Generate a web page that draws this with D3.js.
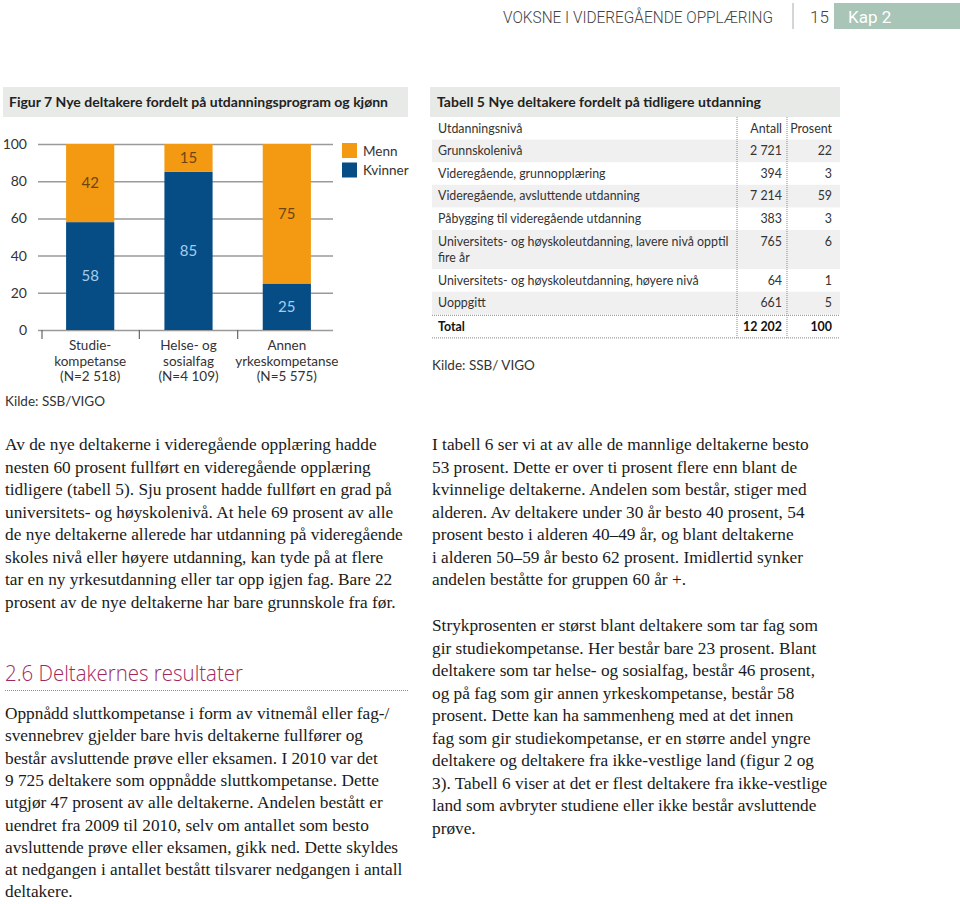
<!DOCTYPE html>
<html>
<head>
<meta charset="utf-8">
<script src="https://cdn.jsdelivr.net/npm/d3@7"></script>
<style>
html,body{margin:0;padding:0;background:#fff;}
svg{display:block;}
</style>
</head>
<body>
<svg id="page" width="960" height="904"></svg>
<script>
// ---------- DATA ----------
const categories = ["Studiekompetanse", "Helse- og sosialfag", "Annen yrkeskompetanse"];
const categoryLabels = [
  ["Studie-", "kompetanse", "(N=2 518)"],
  ["Helse- og", "sosialfag", "(N=4 109)"],
  ["Annen", "yrkeskompetanse", "(N=5 575)"]
];
const kvinner = [58, 85, 25];
const menn = [42, 15, 75];
const seriesNames = ["Kvinner", "Menn"];
const legendNames = ["Menn", "Kvinner"];
const yTicks = [0, 20, 40, 60, 80, 100];

const tableHeader = ["Utdanningsnivå", "Antall", "Prosent"];
const tableLevels = [
  ["Grunnskolenivå"],
  ["Videregående, grunnopplæring"],
  ["Videregående, avsluttende utdanning"],
  ["Påbygging til videregående utdanning"],
  ["Universitets- og høyskoleutdanning, lavere nivå opptil", "fire år"],
  ["Universitets- og høyskoleutdanning, høyere nivå"],
  ["Uoppgitt"]
];
const tableAntall = ["2 721", "394", "7 214", "383", "765", "64", "661"];
const tablePct = ["22", "3", "59", "3", "6", "1", "5"];
const tableTotal = ["Total", "12 202", "100"];

const para1 = [
  "Av de nye deltakerne i videregående opplæring hadde",
  "nesten 60 prosent fullført en videregående opplæring",
  "tidligere (tabell 5). Sju prosent hadde fullført en grad på",
  "universitets- og høyskolenivå. At hele 69 prosent av alle",
  "de nye deltakerne allerede har utdanning på videregående",
  "skoles nivå eller høyere utdanning, kan tyde på at flere",
  "tar en ny yrkesutdanning eller tar opp igjen fag. Bare 22",
  "prosent av de nye deltakerne har bare grunnskole fra før."
];
const para2 = [
  "Oppnådd sluttkompetanse i form av vitnemål eller fag-/",
  "svennebrev gjelder bare hvis deltakerne fullfører og",
  "består avsluttende prøve eller eksamen. I 2010 var det",
  "9 725 deltakere som oppnådde sluttkompetanse. Dette",
  "utgjør 47 prosent av alle deltakerne. Andelen bestått er",
  "uendret fra 2009 til 2010, selv om antallet som besto",
  "avsluttende prøve eller eksamen, gikk ned. Dette skyldes",
  "at nedgangen i antallet bestått tilsvarer nedgangen i antall",
  "deltakere."
];
const para3 = [
  "I tabell 6 ser vi at av alle de mannlige deltakerne besto",
  "53 prosent. Dette er over ti prosent flere enn blant de",
  "kvinnelige deltakerne. Andelen som består, stiger med",
  "alderen. Av deltakere under 30 år besto 40 prosent, 54",
  "prosent besto i alderen 40–49 år, og blant deltakerne",
  "i alderen 50–59 år besto 62 prosent. Imidlertid synker",
  "andelen beståtte for gruppen 60 år +."
];
const para4 = [
  "Strykprosenten er størst blant deltakere som tar fag som",
  "gir studiekompetanse. Her består bare 23 prosent. Blant",
  "deltakere som tar helse- og sosialfag, består 46 prosent,",
  "og på fag som gir annen yrkeskompetanse, består 58",
  "prosent. Dette kan ha sammenheng med at det innen",
  "fag som gir studiekompetanse, er en større andel yngre",
  "deltakere og deltakere fra ikke-vestlige land (figur 2 og",
  "3). Tabell 6 viser at det er flest deltakere fra ikke-vestlige",
  "land som avbryter studiene eller ikke består avsluttende",
  "prøve."
];

// ---------- STYLE ----------
const sans = "Lato, 'Open Sans', sans-serif";
const serif = "'Liberation Serif', 'DejaVu Serif', serif";
const orange = "#f39a12";
const blue = "#074d85";
const svg = d3.select("#page");

// ---------- HEADER ----------
svg.append("text").attr("x", 503).attr("y", 23)
  .attr("font-family", "Roboto, sans-serif").attr("font-weight", 300)
  .attr("font-size", 17).attr("fill", "#444")
  .attr("textLength", 270).attr("lengthAdjust", "spacingAndGlyphs")
  .text("VOKSNE I VIDEREGÅENDE OPPLÆRING");
svg.append("line").attr("x1", 793).attr("x2", 793).attr("y1", 3).attr("y2", 29)
  .attr("stroke", "#aaa").attr("stroke-width", 1);
svg.append("text").attr("x", 810).attr("y", 23)
  .attr("font-family", "Roboto, sans-serif").attr("font-weight", 300)
  .attr("font-size", 17).attr("fill", "#444").text("15");
svg.append("rect").attr("x", 834).attr("y", 3).attr("width", 126).attr("height", 26)
  .attr("fill", "#a8c5b8");
svg.append("text").attr("x", 848).attr("y", 23)
  .attr("font-family", "Roboto, sans-serif").attr("font-weight", 400)
  .attr("font-size", 17).attr("fill", "#fff").text("Kap 2");

// ---------- FIGURE ----------
svg.append("rect").attr("x", 3).attr("y", 87).attr("width", 405).attr("height", 30).attr("fill", "#e7eae7");
svg.append("text").attr("x", 9).attr("y", 107)
  .attr("font-family", sans).attr("font-weight", 700).attr("font-size", 14).attr("fill", "#222")
  .attr("textLength", 379).attr("lengthAdjust", "spacing")
  .text("Figur 7 Nye deltakere fordelt på utdanningsprogram og kjønn");

const chart = svg.append("g");
const y = d3.scaleLinear().domain([0, 100]).range([330, 144]);
const x = d3.scaleBand().domain(categories).range([42, 335]).paddingInner(0.51).paddingOuter(0.245);

const yAxis = chart.append("g").attr("transform", "translate(38,0)")
  .call(d3.axisLeft(y).tickValues(yTicks).tickSize(-295).tickPadding(11));
yAxis.select(".domain").remove();
yAxis.selectAll(".tick line").attr("stroke", "#9a9a9a").attr("stroke-width", 1.5);
yAxis.selectAll(".tick text").attr("font-family", sans).attr("font-size", 14).attr("fill", "#333");

const rows = categories.map((c, i) => ({cat: c, Kvinner: kvinner[i], Menn: menn[i]}));
const stacked = d3.stack().keys(seriesNames)(rows);
const colorOf = {Kvinner: blue, Menn: orange};
const labelColor = {Kvinner: "#a3cdf0", Menn: "#6e4511"};

stacked.forEach(layer => {
  const g = chart.append("g");
  g.selectAll("rect").data(layer).join("rect")
    .attr("x", d => x(d.data.cat)).attr("width", x.bandwidth())
    .attr("y", d => y(d[1])).attr("height", d => y(d[0]) - y(d[1]))
    .attr("fill", colorOf[layer.key]);
  g.selectAll("text").data(layer).join("text")
    .attr("x", d => x(d.data.cat) + x.bandwidth() / 2)
    .attr("y", d => y((d[0] + d[1]) / 2) + 5)
    .attr("text-anchor", "middle").attr("font-family", sans).attr("font-size", 15)
    .attr("fill", labelColor[layer.key])
    .text(d => d.data[layer.key]);
});

// x axis ticks at band boundaries
const xAxis = chart.append("g").attr("transform", "translate(0,330)")
  .call(d3.axisBottom(x).tickSize(0).tickFormat(""));
xAxis.select(".domain").remove();
const boundaries = categories.map((c, i) => i === 0 ? x.range()[0] : x(c) - x.step() * x.paddingInner() / 2);
xAxis.selectAll(".boundary").data(boundaries).join("line")
  .attr("x1", d => d).attr("x2", d => d).attr("y1", 0).attr("y2", 9)
  .attr("stroke", "#666").attr("stroke-width", 1.2);
categories.forEach((c, i) => {
  categoryLabels[i].forEach((line, j) => {
    xAxis.append("text").attr("x", x(c) + x.bandwidth() / 2).attr("y", 20 + j * 15.5)
      .attr("text-anchor", "middle").attr("font-family", sans).attr("font-size", 13.5)
      .attr("fill", "#333").text(line);
  });
});

// legend
const legend = chart.append("g").attr("transform", "translate(342,143)");
legendNames.forEach((n, i) => {
  legend.append("rect").attr("x", 0).attr("y", i * 19.5).attr("width", 15).attr("height", 15)
    .attr("fill", colorOf[n]);
  legend.append("text").attr("x", 21).attr("y", i * 19.5 + 12.5)
    .attr("font-family", sans).attr("font-size", 13.5).attr("fill", "#333").text(n);
});

svg.append("text").attr("x", 5).attr("y", 406).attr("font-family", sans).attr("font-size", 13.5)
  .attr("fill", "#333").text("Kilde: SSB/VIGO");

// ---------- TABLE ----------
svg.append("rect").attr("x", 430).attr("y", 87).attr("width", 410).attr("height", 30).attr("fill", "#e7eae7");
svg.append("text").attr("x", 437).attr("y", 107)
  .attr("font-family", sans).attr("font-weight", 700).attr("font-size", 14).attr("fill", "#222")
  .attr("textLength", 324).attr("lengthAdjust", "spacing")
  .text("Tabell 5 Nye deltakere fordelt på tidligere utdanning");

const tbl = svg.append("g").attr("font-family", sans).attr("font-size", 12.4).attr("fill", "#333");
const colName = 438, colAntall = 782, colPct = 832;
const rowH = 22.6, lineH = 16.5;
let yTop = 117;
// header
tbl.append("text").attr("x", colName).attr("y", yTop + 15.5).text(tableHeader[0]);
tbl.append("text").attr("x", colAntall).attr("y", yTop + 15.5).attr("text-anchor", "end").text(tableHeader[1]);
tbl.append("text").attr("x", colPct).attr("y", yTop + 15.5).attr("text-anchor", "end").text(tableHeader[2]);
yTop += rowH;
tableLevels.forEach((lines, i) => {
  const h = rowH + (lines.length - 1) * lineH;
  if (i % 2 === 0) {
    tbl.insert("rect", ":first-child").attr("x", 432).attr("y", yTop).attr("width", 408).attr("height", h)
      .attr("fill", "#f0f0f0");
  }
  lines.forEach((l, j) => tbl.append("text").attr("x", colName).attr("y", yTop + 15.5 + j * lineH).text(l));
  tbl.append("text").attr("x", colAntall).attr("y", yTop + 15.5).attr("text-anchor", "end").text(tableAntall[i]);
  tbl.append("text").attr("x", colPct).attr("y", yTop + 15.5).attr("text-anchor", "end").text(tablePct[i]);
  yTop += h;
});
const totalTop = yTop + 1;
tbl.append("text").attr("x", colName).attr("y", totalTop + 15.5).attr("font-weight", 700).attr("fill", "#111").text(tableTotal[0]);
tbl.append("text").attr("x", colAntall).attr("y", totalTop + 15.5).attr("text-anchor", "end").attr("font-weight", 700).attr("fill", "#111").text(tableTotal[1]);
tbl.append("text").attr("x", colPct).attr("y", totalTop + 15.5).attr("text-anchor", "end").attr("font-weight", 700).attr("fill", "#111").text(tableTotal[2]);
const totalBottom = totalTop + rowH;
[totalTop, totalBottom].forEach(yy => svg.append("line").attr("x1", 432).attr("x2", 840)
  .attr("y1", yy).attr("y2", yy).attr("stroke", "#888").attr("stroke-dasharray", "1,1"));
[737, 787].forEach(xx => svg.append("line").attr("x1", xx).attr("x2", xx)
  .attr("y1", 117).attr("y2", totalBottom).attr("stroke", "#888").attr("stroke-dasharray", "1,1"));

svg.append("text").attr("x", 432).attr("y", 370).attr("font-family", sans).attr("font-size", 13.5)
  .attr("fill", "#333").text("Kilde: SSB/ VIGO");

// ---------- BODY TEXT ----------
function para(lines, x0, y0, lh) {
  const g = svg.append("g").attr("font-family", serif).attr("font-size", 17.3).attr("fill", "#1a1a1a");
  lines.forEach((l, i) => g.append("text").attr("x", x0).attr("y", y0 + i * lh).text(l));
}
para(para1, 5, 450, 22.5);
para(para3, 432, 450, 22.5);
para(para4, 432, 631, 22.5);

svg.append("text").attr("x", 5).attr("y", 681)
  .attr("font-family", "'Open Sans', sans-serif").attr("font-weight", 300).attr("font-size", 22)
  .attr("textLength", 238).attr("lengthAdjust", "spacingAndGlyphs")
  .attr("fill", "#a2275a").text("2.6 Deltakernes resultater");
svg.append("line").attr("x1", 5).attr("x2", 408).attr("y1", 690.5).attr("y2", 690.5)
  .attr("stroke", "#b07a90").attr("stroke-dasharray", "1,1");
para(para2, 5, 719, 22.3);
</script>
</body>
</html>
